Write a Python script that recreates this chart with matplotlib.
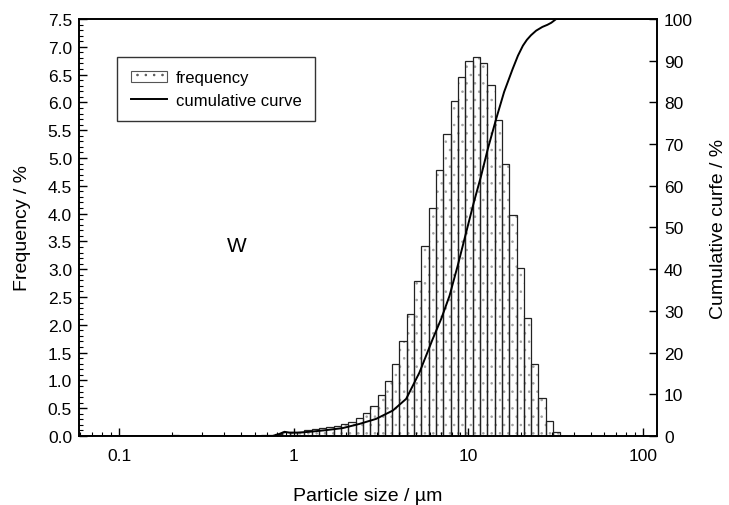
import numpy as np
import matplotlib.pyplot as plt
from matplotlib.patches import Patch

plt.rcParams['font.family'] = ['Liberation Sans', 'DejaVu Sans']
plt.rcParams['hatch.linewidth'] = 0.6

# size classes (lower / upper edge of each bar, um)
bin_lo = [0.200, 0.646, 0.711, 0.783, 0.862, 0.949, 1.045, 1.151, 1.268, 1.396,
          1.537, 1.693, 1.864, 2.052, 2.260, 2.489, 2.741, 3.018, 3.323, 3.660,
          4.030, 4.438, 4.887, 5.381, 5.926, 6.526, 7.186, 7.913, 8.714, 9.596,
          10.57, 11.64, 12.81, 14.11, 15.54, 17.11, 18.84, 20.75, 22.85, 25.16,
          27.71, 30.51]
bin_hi = [0.220, 0.711, 0.783, 0.862, 0.949, 1.045, 1.151, 1.268, 1.396, 1.537,
          1.693, 1.864, 2.052, 2.260, 2.489, 2.741, 3.018, 3.323, 3.660, 4.030,
          4.438, 4.887, 5.381, 5.926, 6.526, 7.186, 7.913, 8.714, 9.596, 10.57,
          11.64, 12.81, 14.11, 15.54, 17.11, 18.84, 20.75, 22.85, 25.16, 27.71,
          30.51, 33.60]
frequency = [0.02, 0.01, 0.02, 0.04, 0.07, 0.07, 0.08, 0.11, 0.13, 0.14,
             0.16, 0.18, 0.21, 0.26, 0.32, 0.41, 0.54, 0.74, 0.98, 1.29,
             1.70, 2.19, 2.78, 3.42, 4.10, 4.78, 5.44, 6.02, 6.45, 6.74,
             6.82, 6.70, 6.31, 5.69, 4.89, 3.97, 3.02, 2.12, 1.29, 0.68,
             0.27, 0.08]

# cumulative curve
cum_size = [0.06, 0.70, 0.758, 0.828, 0.885, 0.945, 1.05, 1.23, 1.53, 1.91,
            2.38, 2.96, 3.69, 4.40, 5.24, 6.25, 7.00, 7.79, 8.70, 9.70,
            10.7, 11.82, 12.9, 14.4, 16.0, 17.9, 19.2, 20.5, 21.6, 22.8,
            24.4, 26.5, 28.3, 29.8, 31.8, 120]
cum_pct = [0.0, 0.0, 0.0, 0.5, 1.0, 0.8, 0.8, 1.0, 1.4, 1.9,
           2.9, 4.1, 6.1, 8.9, 15.2, 23.3, 28.2, 33.6, 41.0, 48.8,
           55.8, 62.4, 68.8, 76.0, 82.5, 88.0, 91.2, 93.6, 95.0, 96.1,
           97.2, 98.1, 98.6, 99.1, 100.0, 100.0]

fig = plt.figure(figsize=(7.29, 5.06), dpi=100)
ax = fig.add_axes([0.1084, 0.1364, 0.7928, 0.8241])

lo = np.array(bin_lo)
hi = np.array(bin_hi)
ax.bar(lo, frequency, width=hi - lo, align='edge', color='white',
       edgecolor='#a0a0a0', hatch='..', linewidth=0)
ax.bar(lo, frequency, width=hi - lo, align='edge', fill=False,
       edgecolor='#222222', linewidth=0.9)

ax.set_xscale('log')
ax.set_xlim(0.059, 120)
ax.set_ylim(0, 7.5)
ax.set_yticks(np.arange(0, 7.51, 0.5))
ax.set_yticks(np.arange(0, 7.51, 0.1), minor=True)
ax.yaxis.set_major_formatter(plt.FormatStrFormatter('%.1f'))
ax.xaxis.set_major_formatter(plt.FuncFormatter(lambda v, p: '%g' % v))
ax.tick_params(which='both', direction='in', labelsize=12.5)
ax.tick_params(which='major', length=6, width=1, pad=5)
ax.tick_params(which='minor', length=3, width=0.8)
ax.tick_params(axis='x', which='major', pad=9)
ax.tick_params(axis='y', which='both', right=False)
for s in ax.spines.values():
    s.set_linewidth(1.2)

ax.set_xlabel('Particle size / \u00b5m', fontsize=14, labelpad=17)
ax.set_ylabel('Frequency / %', fontsize=14, labelpad=12)
ax.text(0.47, 3.42, 'W', fontsize=15, ha='center', va='center')

ax2 = ax.twinx()
line, = ax2.plot(cum_size, cum_pct, color='black', linewidth=1.4)
ax2.set_ylim(0, 100)
ax2.set_yticks(np.arange(0, 101, 10))
ax2.tick_params(axis='y', direction='in', length=6, width=1,
                labelsize=12.5, pad=5)
ax2.set_ylabel('Cumulative curfe / %', fontsize=14, labelpad=12)
for s in ax2.spines.values():
    s.set_linewidth(1.2)

freq_handle = Patch(facecolor='white', edgecolor='#555555', hatch='..',
                    linewidth=0.8)
leg = ax.legend([freq_handle, line], ['frequency', 'cumulative curve'],
                loc='upper left', bbox_to_anchor=(0.066, 0.909),
                borderaxespad=0, fontsize=12, frameon=True, fancybox=False,
                edgecolor='black', borderpad=0.8, handlelength=2.2,
                handletextpad=0.5, labelspacing=0.45)
leg.get_frame().set_linewidth(1.0)

fig.savefig('out.png', dpi=100)
